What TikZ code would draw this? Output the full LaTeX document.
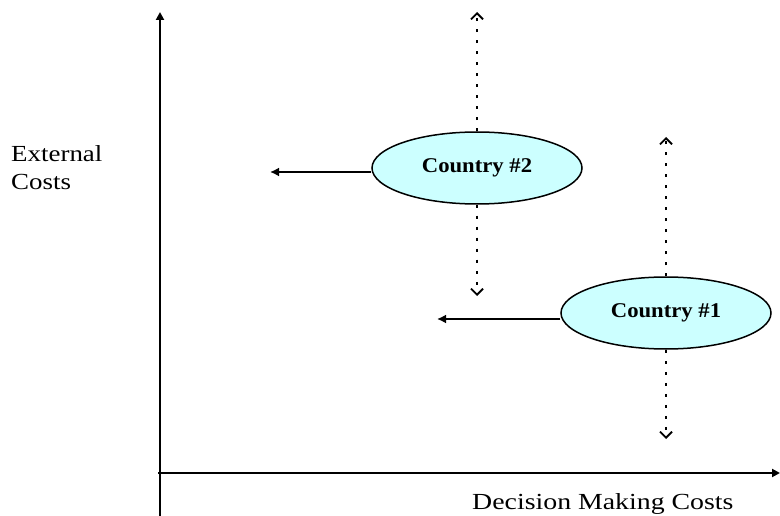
\documentclass[tikz,border=0pt]{standalone}
\usepackage{fontspec}
\setmainfont{Liberation Serif}
\usetikzlibrary{shapes.geometric,arrows.meta}
\definecolor{ellfill}{HTML}{CCFFFF}
\tikzset{
  country/.style={ellipse, draw=black, line width=1.5pt, fill=ellfill, minimum width=210pt, minimum height=72pt, inner sep=0pt, font=\fontsize{21}{24}\selectfont\bfseries},
  axis/.style={line width=2pt, -{Triangle[length=8pt,width=8pt]}},
  leftarr/.style={line width=2.4pt, -{Latex[length=9pt,width=9pt]}},
  dotarr/.style={line width=2.2pt, dash pattern=on 3pt off 8pt, -{Straight Barb[length=6pt,width=12pt,line width=1.8pt]}},
  lbl/.style={font=\fontsize{23}{28}\selectfont, inner sep=0pt, align=left}
}
\begin{document}
\begin{tikzpicture}[x=1pt,y=-1pt]
\useasboundingbox (0,0) rectangle (780,516);
% axes
\coordinate (ybot) at (160,516);
\coordinate (ytop) at (160,12);
\coordinate (xl) at (158,473);
\coordinate (xr) at (780,473);
\draw[axis] (ybot) -- (ytop);
\draw[axis] (xl) -- (xr);
% labels
\node[lbl, anchor=north west, xscale=1.17] (ylab) at (11,145) {External\\Costs};
\node[lbl, anchor=base west, xscale=1.21] (xlab) at (472,509) {Decision Making Costs};
% countries
\node[country] (c2) at (477,168) {\scalebox{1.08}[1]{Country \#2}};
\node[country] (c1) at (666,313) {\scalebox{1.08}[1]{Country \#1}};
% arrow ends
\coordinate (c2up) at (477,12);
\coordinate (c2dn) at (477,296);
\coordinate (c2lf) at (270,172);
\coordinate (c1up) at (666,137);
\coordinate (c1dn) at (666,439);
\coordinate (c1lf) at (437,319);
\draw[dotarr] (c2.north) -- (c2up);
\draw[dotarr] (c2.south) -- (c2dn);
\draw[leftarr] ([yshift=-4pt]c2.west) -- (c2lf);
\draw[dotarr] (c1.north) -- (c1up);
\draw[dotarr] (c1.south) -- (c1dn);
\draw[leftarr] ([yshift=-6pt]c1.west) -- (c1lf);
\end{tikzpicture}
\end{document}
